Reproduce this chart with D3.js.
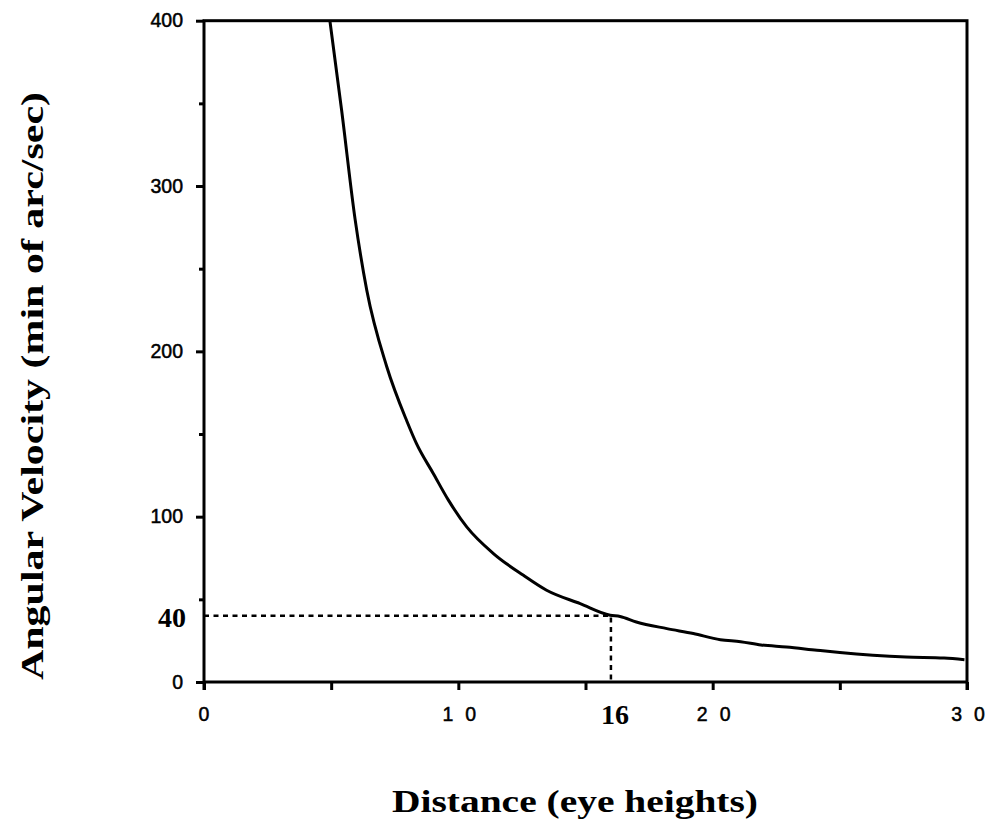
<!DOCTYPE html>
<html>
<head>
<meta charset="utf-8">
<script src="https://cdn.jsdelivr.net/npm/d3@7"></script>
<style>
  html, body { margin: 0; padding: 0; background: #fff; }
  svg { display: block; }
</style>
</head>
<body>
<svg id="chart" width="989" height="831"></svg>
<script>
// ---- data ----
const distance = [4.95, 5.41, 5.94, 6.4, 7.18, 7.97, 8.36, 9.02, 9.61, 10.33, 11.38, 12.56, 13.47, 14.79, 15.97, 16.36, 17.0, 18.2, 19.24, 20.3, 21.1, 21.9, 22.9, 24.1, 25.0, 26.3, 27.6, 29.1, 29.9];
const angVel   = [400, 346, 280, 237, 191, 158, 144, 126, 110, 93.8, 77.7, 64.5, 55.5, 47.4, 40.4, 39.6, 36.3, 32.3, 29.3, 25.6, 24.4, 22.4, 21.2, 19.2, 17.8, 16.2, 15.1, 14.5, 13.5];
const xMajorTicks = [0, 10, 20, 30];
const xAllTicks = [0, 5, 10, 15, 20, 25, 30];
const yMajorTicks = [0, 100, 200, 300, 400];
const yMinorTicks = [50, 150, 250, 350];
const markX = 16;
const markY = 40;
const xTitle = "Distance (eye heights)";
const yTitle = "Angular Velocity (min of arc/sec)";

// ---- layout ----
const svg = d3.select("#chart");
const mLeft = 204, mRight = 967, mTop = 20.7, mBottom = 682;
const x = d3.scaleLinear().domain([0, 30]).range([mLeft, mRight]);
const y = d3.scaleLinear().domain([0, 400]).range([mBottom, mTop]);

const sansFont = "'Liberation Sans', Arial, sans-serif";
const serifFont = "'Liberation Serif', 'DejaVu Serif', serif";

// frame
svg.append("rect")
  .attr("x", mLeft).attr("y", mTop)
  .attr("width", mRight - mLeft).attr("height", mBottom - mTop)
  .attr("fill", "none").attr("stroke", "#000").attr("stroke-width", 3);

// Left axis
const yAxis = svg.append("g").attr("transform", `translate(${mLeft},0)`)
  .call(d3.axisLeft(y).tickValues(yMajorTicks).tickSize(8).tickPadding(13).tickFormat(d3.format("d")));
yAxis.select(".domain").remove();
yAxis.selectAll(".tick line").attr("stroke", "#000").attr("stroke-width", 3);
yAxis.selectAll(".tick text")
  .attr("font-family", sansFont).attr("font-size", 19.5).attr("fill", "#000")
  .attr("stroke", "#000").attr("stroke-width", 0.5);

const yMinor = svg.append("g").attr("transform", `translate(${mLeft},0)`)
  .call(d3.axisLeft(y).tickValues(yMinorTicks).tickSize(5).tickFormat(""));
yMinor.select(".domain").remove();
yMinor.selectAll(".tick line").attr("stroke", "#000").attr("stroke-width", 3);

// extend left and right axes slightly below the bottom
[mLeft, mRight].forEach(px => {
  svg.append("line").attr("x1", px).attr("x2", px).attr("y1", mBottom).attr("y2", mBottom + 8)
    .attr("stroke", "#000").attr("stroke-width", 3);
});

// Bottom axis
const xAxis = svg.append("g").attr("transform", `translate(0,${mBottom})`)
  .call(d3.axisBottom(x).tickValues(xAllTicks).tickSize(8).tickFormat(""));
xAxis.select(".domain").remove();
xAxis.selectAll(".tick line").attr("stroke", "#000").attr("stroke-width", 3);

// x tick labels: digits spaced apart as in the original
const xLab = svg.append("g").selectAll("text").data(xMajorTicks).join("text")
  .attr("x", d => x(d) + (d >= 10 ? 1 : 0)).attr("y", mBottom + 39)
  .attr("text-anchor", "middle")
  .attr("font-family", sansFont).attr("font-size", 19.5)
  .attr("stroke", "#000").attr("stroke-width", 0.5);
xLab.each(function(d) {
  const s = String(d);
  const t = d3.select(this);
  s.split("").forEach((ch, i) => {
    t.append("tspan").attr("dx", i > 0 ? 12 : 0).text(ch);
  });
});

// marker labels (serif bold)
svg.append("text").attr("x", x(markX) + 4).attr("y", mBottom + 42)
  .attr("text-anchor", "middle").attr("font-family", serifFont)
  .attr("font-weight", "bold").attr("font-size", 28).text(markX);
svg.append("text").attr("x", 186).attr("y", y(markY) + 11)
  .attr("text-anchor", "end").attr("font-family", serifFont)
  .attr("font-weight", "bold").attr("font-size", 28).text(markY);

// dotted guide lines
svg.append("path")
  .attr("d", d3.line()([[x(0), y(markY)], [x(markX), y(markY)], [x(markX), y(0)]]))
  .attr("fill", "none").attr("stroke", "#000").attr("stroke-width", 2.5)
  .attr("stroke-dasharray", "5,4.5");

// curve
const line = d3.line().x((d, i) => x(distance[i])).y(d => y(d)).curve(d3.curveMonotoneX);
svg.append("path").datum(angVel)
  .attr("d", line)
  .attr("fill", "none").attr("stroke", "#000").attr("stroke-width", 3);

// titles
svg.append("text").attr("x", 575).attr("y", 812)
  .attr("text-anchor", "middle").attr("font-family", serifFont)
  .attr("font-weight", "bold").attr("font-size", 32)
  .attr("textLength", 366).attr("lengthAdjust", "spacingAndGlyphs")
  .text(xTitle);
svg.append("text")
  .attr("transform", "translate(43,386) rotate(-90)")
  .attr("text-anchor", "middle").attr("font-family", serifFont)
  .attr("font-weight", "bold").attr("font-size", 32)
  .attr("textLength", 588).attr("lengthAdjust", "spacingAndGlyphs")
  .text(yTitle);
</script>
</body>
</html>
